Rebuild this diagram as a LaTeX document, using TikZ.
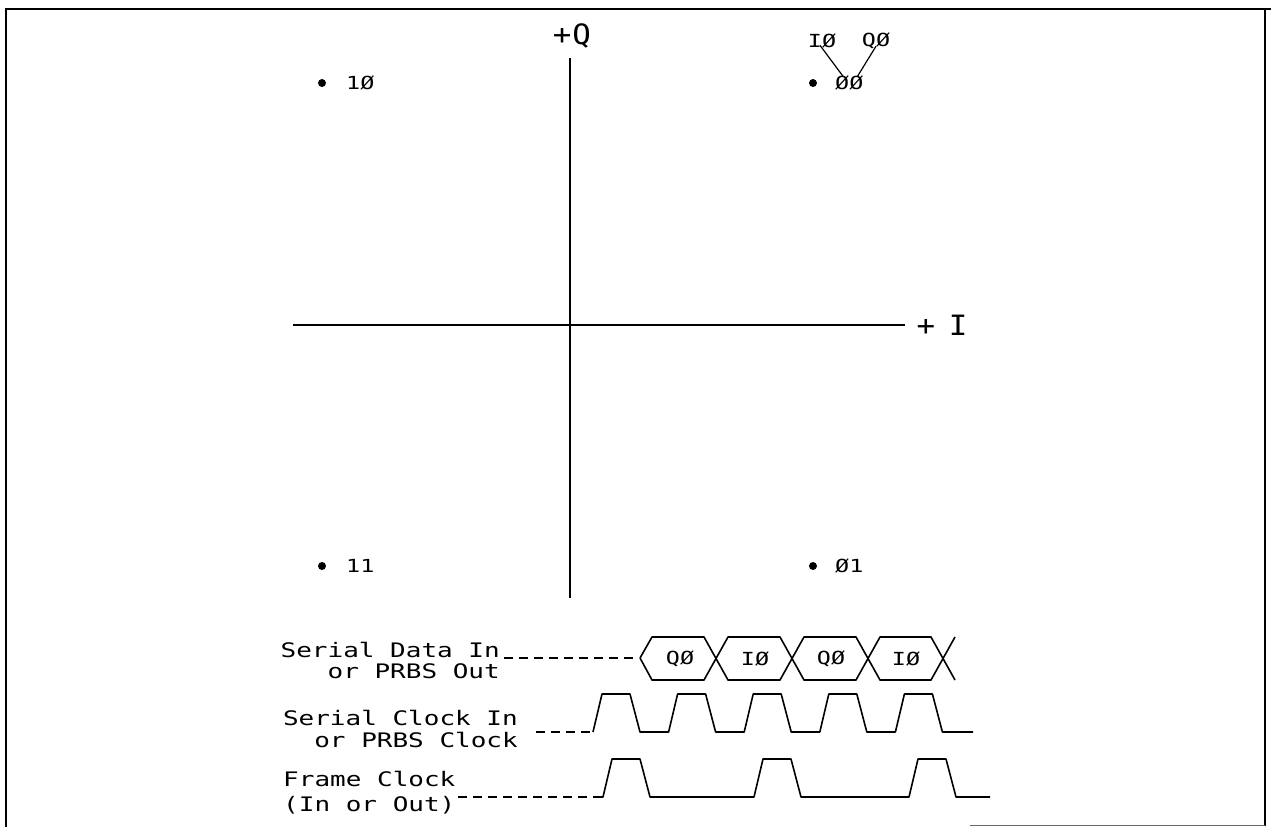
\documentclass[tikz,border=0pt]{standalone}
\usepackage{fontspec}
\newfontfamily\plotfont[FakeStretch=1.3]{DejaVu Sans Mono}
\newfontfamily\axfont[FakeStretch=1.1]{DejaVu Sans Mono}
\begin{document}
\begin{tikzpicture}[x=1pt,y=-1pt,
  dotpt/.style={circle,fill=black,inner sep=0pt,minimum size=8pt},
  ptlab/.style={font=\plotfont\fontsize{18}{18}\selectfont,inner sep=0pt,anchor=west},
  sig/.style={font=\plotfont\fontsize{20}{20}\selectfont,inner sep=0pt},
  hexlab/.style={font=\plotfont\fontsize{18}{18}\selectfont,inner sep=0pt},
  wave/.style={line width=1.6pt,line join=round},
  axis/.style={line width=1.6pt},
  lead/.style={line width=1.6pt,dash pattern=on 9pt off 6pt},
  frame/.style={line width=2.6pt}]
\useasboundingbox (0,0) rectangle (1271,827);
% frame
\draw[frame] (6,827) -- (6,9) -- (1271,9);
\draw[frame] (1265,9) -- (1265,826);
\draw[line width=1pt,black!60] (970,825) -- (1265,825);

% axes
\coordinate (qtop) at (570,58);
\coordinate (qbot) at (570,598);
\coordinate (ileft) at (293,325);
\coordinate (iright) at (905,325);
\draw[axis] (qtop) -- (qbot);
\draw[axis] (ileft) -- (iright);
\node[font=\axfont\fontsize{28}{28}\selectfont,inner sep=0pt] (Qlab) at (572,36) {+\kern1pt Q};
\node[font=\axfont\fontsize{28}{28}\selectfont,inner sep=0pt] (Ilab) at (942,325) {+\kern-5pt\ I};

% constellation points
\node[dotpt] (p10) at (322,83) {};
\node[ptlab] (t10) at (346,83) {1Ø};
\node[dotpt] (p00) at (813,83) {};
\node[ptlab] (t00) at (835,83) {ØØ};
\node[dotpt] (p11) at (322,566) {};
\node[ptlab] (t11) at (346,566) {11};
\node[dotpt] (p01) at (813,566) {};
\node[ptlab] (t01) at (835,566) {Ø1};
\node[ptlab,anchor=center] (tI0) at (822,41) {IØ};
\node[ptlab,anchor=center] (tQ0) at (876,41) {QØ};
\draw[line width=1.2pt] ([xshift=-2pt,yshift=3pt]tI0.south) -- ([xshift=-6pt,yshift=-1pt]t00.north);
\draw[line width=1.2pt] ([xshift=0pt,yshift=3pt]tQ0.south) -- ([xshift=8pt,yshift=-1pt]t00.north);

% signal labels
\node[sig,anchor=base east] (sd1) at (500,657) {Serial Data In};
\node[sig,anchor=base east] (sd2) at (500,678) {or PRBS Out};
\node[sig,anchor=base east] (sc1) at (518,725) {Serial Clock In};
\node[sig,anchor=base east] (sc2) at (518,747) {or PRBS Clock};
\node[sig,anchor=base west] (fc1) at (283,786) {Frame Clock};
\node[sig,anchor=base west] (fc2) at (283,811) {(In or Out)};

% serial data
\draw[lead] (504,658) -- (638,658);
\draw[wave] (640,658) -- (652,637) -- (704,637) -- (728,680) -- (780,680) -- (804,637)
  -- (856,637) -- (880,680) -- (931,680) -- (955,637);
\draw[wave] (640,658) -- (652,680) -- (704,680) -- (728,637) -- (780,637) -- (804,680)
  -- (856,680) -- (880,637) -- (931,637) -- (955,680);
\node[hexlab] (h1) at (680,659) {QØ};
\node[hexlab] (h2) at (755,659) {IØ};
\node[hexlab] (h3) at (831,659) {QØ};
\node[hexlab] (h4) at (906,659) {IØ};

% serial clock
\draw[lead] (536,732) -- (590,732);
\draw[wave] (593,732)
  \foreach \r in {593,668.6,744.2,819.8,895.4} {
    -- (\r,732) -- ({\r+9},694) -- ({\r+37},694) -- ({\r+47},732)
  } -- (973,732);

% frame clock
\draw[lead] (458,797) -- (598,797);
\draw[wave] (598,797)
  \foreach \r in {603,754,909} {
    -- (\r,797) -- ({\r+9},759) -- ({\r+37},759) -- ({\r+47},797)
  } -- (990,797);
\end{tikzpicture}
\end{document}
